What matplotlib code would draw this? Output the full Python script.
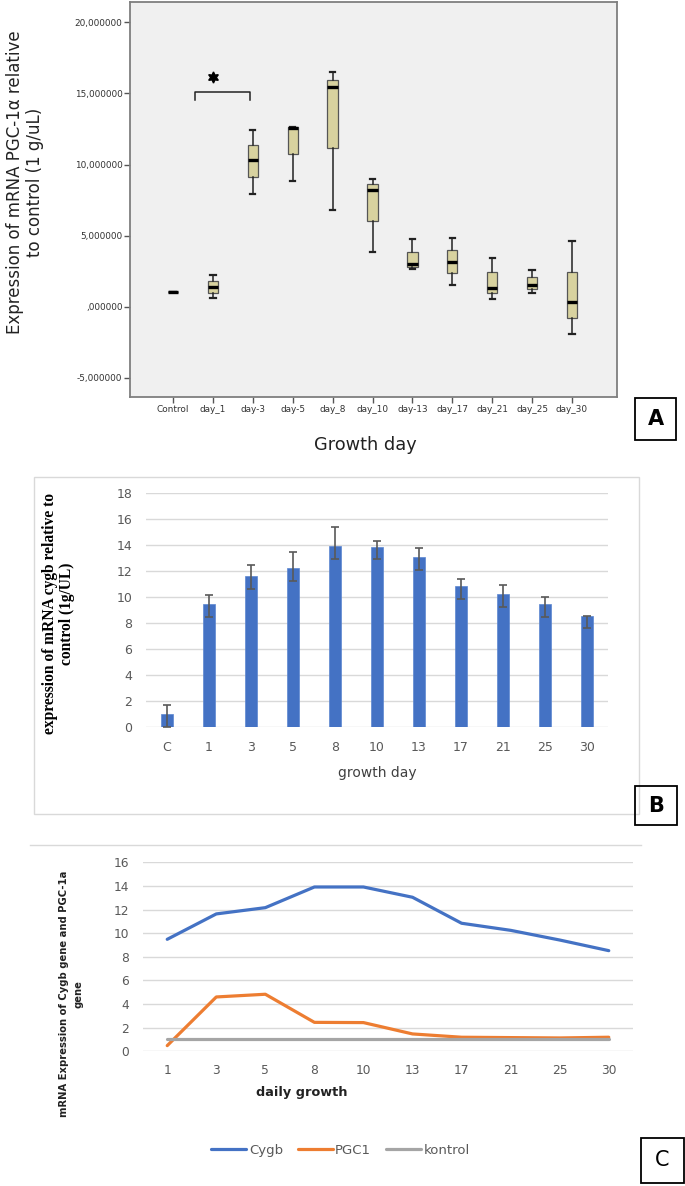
import matplotlib
matplotlib.use("Agg")
import matplotlib.pyplot as plt
from matplotlib.patches import Rectangle
from matplotlib.lines import Line2D

plt.rcParams['font.family'] = ['DejaVu Sans']

# ---------------- data ----------------
# Panel A (box plot of PGC-1a expression)
A_labels = ['Control', 'day_1', 'day-3', 'day-5', 'day_8', 'day_10', 'day-13',
            'day_17', 'day_21', 'day_25', 'day_30']
A_whislo = [1.0, 0.63, 7.95, 8.82, 6.80, 3.87, 2.65, 1.50, 0.56, 0.94, -1.94]
A_q1 = [1.0, 0.94, 9.10, 10.76, 11.18, 6.05, 2.81, 2.35, 0.94, 1.22, -0.82]
A_med = [1.0, 1.36, 10.34, 12.59, 15.47, 8.23, 3.02, 3.16, 1.31, 1.50, 0.35]
A_q3 = [1.0, 1.80, 11.37, 12.66, 15.96, 8.60, 3.87, 3.99, 2.42, 2.09, 2.46]
A_whishi = [1.0, 2.20, 12.45, 12.66, 16.50, 8.98, 4.76, 4.81, 3.45, 2.56, 4.60]
A_yticks = [-5, 0, 5, 10, 15, 20]
A_yticklabels = ['-5,000000', ',000000', '5,000000', '10,000000', '15,000000', '20,000000']

# Panel B (bar chart of Cygb expression)
B_labels = ['C', '1', '3', '5', '8', '10', '13', '17', '21', '25', '30']
B_vals = [1.0, 9.47, 11.63, 12.19, 13.93, 13.85, 13.09, 10.83, 10.24, 9.47, 8.50]
B_err_hi = [0.66, 0.67, 0.82, 1.25, 1.43, 0.44, 0.64, 0.57, 0.67, 0.54, 0.05]
B_err_lo = [1.0, 0.99, 1.00, 1.00, 1.00, 0.92, 1.03, 1.02, 1.00, 0.99, 0.92]

# Panel C (line chart)
C_labels = ['1', '3', '5', '8', '10', '13', '17', '21', '25', '30']
C_cygb = [9.48, 11.63, 12.16, 13.91, 13.91, 13.04, 10.84, 10.24, 9.42, 8.52]
C_pgc1 = [0.48, 4.60, 4.83, 2.45, 2.43, 1.47, 1.19, 1.16, 1.13, 1.19]
C_kontrol = [1.0, 1.0, 1.0, 1.0, 1.0, 1.0, 1.0, 1.0, 1.0, 1.0]

W, H = 685, 1186
fig = plt.figure(figsize=(W / 100, H / 100), dpi=100)


def fr(x0, y0, x1, y1):
    """pixel box (top-left origin) -> figure fraction rect"""
    return [x0 / W, 1 - y1 / H, (x1 - x0) / W, (y1 - y0) / H]


def label_box(x0, y0, x1, y1, letter, weight='bold', size=15):
    fig.add_artist(Rectangle((x0 / W, 1 - y1 / H), (x1 - x0) / W, (y1 - y0) / H,
                             transform=fig.transFigure, fill=False, lw=1.3, ec='black'))
    fig.text((x0 + x1) / 2 / W, 1 - (y0 + y1) / 2 / H, letter, ha='center', va='center',
             fontsize=size, fontweight=weight, color='black')


# ---------------- Panel A ----------------
axA = fig.add_axes(fr(130, 2, 617, 397))
axA.set_facecolor('#f0f0f0')
stats = []
for i in range(len(A_labels)):
    stats.append(dict(whislo=A_whislo[i], q1=A_q1[i], med=A_med[i], q3=A_q3[i],
                      whishi=A_whishi[i], fliers=[], label=A_labels[i]))
axA.bxp(stats, positions=list(range(len(A_labels))), widths=0.26, patch_artist=True,
        showfliers=False, capwidths=0.13,
        boxprops=dict(facecolor='#d8d29f', edgecolor='#555555', linewidth=0.9),
        medianprops=dict(color='black', linewidth=2.4),
        whiskerprops=dict(color='#222222', linewidth=1.1),
        capprops=dict(color='#222222', linewidth=1.6))
axA.set_xlim(-1.08, 11.13)
axA.set_ylim(-6.35, 21.43)
axA.set_yticks(A_yticks)
axA.set_yticklabels(A_yticklabels)
axA.set_xticks(list(range(len(A_labels))))
axA.set_xticklabels(A_labels)
for s in axA.spines.values():
    s.set_color('#7f7f7f')
    s.set_linewidth(1.3)
axA.tick_params(axis='both', direction='out', length=4.3, width=1.0, color='#555555',
                labelsize=6.4, labelcolor='#333333', pad=1.2)
# significance bracket and star
axA.plot([0.54, 0.54, 1.92, 1.92], [14.54, 15.1, 15.1, 14.54], color='#222222', lw=1.1)
axA.plot([1.0], [16.15], marker=(6, 1, 0), color='black', markersize=8)

fig.text(25 / W, 1 - 182.5 / H, 'Expression of mRNA PGC-1α relative\nto control (1 g/uL)',
         rotation=90, ha='center', va='center', multialignment='center', fontsize=12,
         color='#222222', linespacing=1.15)
fig.text(365.5 / W, 1 - 445 / H, 'Growth day', ha='center', va='center', fontsize=12.8,
         color='#222222')
label_box(635, 398, 676, 440, 'A')

# ---------------- Panel B ----------------
fig.add_artist(Rectangle((34 / W, 1 - 814 / H), (639 - 34) / W, (814 - 477.3) / H,
                         transform=fig.transFigure, fill=False, lw=1.0, ec='#d9d9d9'))
axB = fig.add_axes(fr(146, 492.7, 607.7, 727))
xB = list(range(len(B_labels)))
axB.bar(xB, B_vals, width=0.29, color='#4472c4', edgecolor='#5b86d0', linewidth=0.5,
        yerr=[B_err_lo, B_err_hi], ecolor='#595959',
        error_kw=dict(capsize=3.2, elinewidth=1.2, capthick=1.2), zorder=2)
axB.set_xlim(-0.5, 10.5)
axB.set_ylim(0, 18)
axB.set_yticks(range(0, 19, 2))
axB.set_xticks(xB)
axB.set_xticklabels(B_labels)
axB.grid(axis='y', color='#d9d9d9', lw=1.0)
axB.set_axisbelow(True)
for s in axB.spines.values():
    s.set_visible(False)
axB.tick_params(axis='both', length=0, labelsize=9, labelcolor='#595959')
axB.tick_params(axis='y', pad=10)
axB.tick_params(axis='x', pad=10)
fig.text(58.5 / W, 1 - 613.8 / H, 'expression of mRNA cygb relative to\ncontrol (1g/UL)',
         rotation=90, ha='center', va='center', multialignment='center',
         family=['Liberation Serif', 'DejaVu Serif'], fontweight='bold', fontsize=11.2,
         color='black', linespacing=1.05)
fig.text(377 / W, 1 - 772.7 / H, 'growth day', ha='center', va='center', fontsize=10,
         color='#404040')
label_box(635, 786, 677, 825, 'B')

# ---------------- Panel C ----------------
fig.add_artist(Line2D([30 / W, 641 / W], [1 - 845 / H, 1 - 845 / H], transform=fig.transFigure,
                      color='#d9d9d9', lw=1.0))
axC = fig.add_axes(fr(142.7, 862.3, 633.3, 1051.3))
xC = list(range(len(C_labels)))
axC.plot(xC, C_cygb, color='#4472c4', lw=2.3, label='Cygb', solid_capstyle='round')
axC.plot(xC, C_pgc1, color='#ed7d31', lw=2.3, label='PGC1', solid_capstyle='round')
axC.plot(xC, C_kontrol, color='#a5a5a5', lw=2.3, label='kontrol', solid_capstyle='round')
axC.set_xlim(-0.5, 9.5)
axC.set_ylim(0, 16)
axC.set_yticks(range(0, 17, 2))
axC.set_xticks(xC)
axC.set_xticklabels(C_labels)
axC.grid(axis='y', color='#d9d9d9', lw=1.0)
axC.set_axisbelow(True)
for s in axC.spines.values():
    s.set_visible(False)
axC.tick_params(axis='both', length=0, labelsize=8.8, labelcolor='#595959')
axC.tick_params(axis='y', pad=10)
axC.tick_params(axis='x', pad=9)
fig.text(71 / W, 1 - 994 / H, 'mRNA Expression of Cygb gene and PGC-1a\ngene', rotation=90,
         ha='center', va='center', multialignment='center', fontsize=7.2, fontweight='bold',
         color='#222222', linespacing=1.5)
fig.text(302 / W, 1 - 1092.3 / H, 'daily growth', ha='center', va='center', fontsize=9.3,
         fontweight='bold', color='#222222')
handles, labels = axC.get_legend_handles_labels()
fig.legend(handles, labels, loc='center', bbox_to_anchor=(340.5 / W, 1 - 1150.5 / H), ncol=3,
           frameon=False, handlelength=2.65, handletextpad=0.2, columnspacing=1.1,
           fontsize=9.5, labelcolor='#595959')
label_box(641, 1138, 684, 1183, 'C', weight='normal', size=15)

fig.savefig('out.png', dpi=100)
